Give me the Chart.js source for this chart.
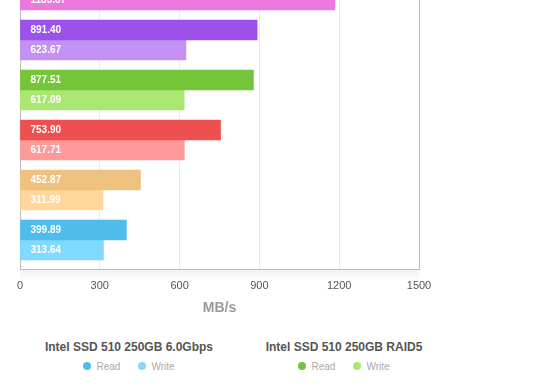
<!DOCTYPE html>
<html>
<head>
<meta charset="utf-8">
<script src="https://cdn.jsdelivr.net/npm/chart.js@4.4.1/dist/chart.umd.min.js"></script>
<style>
  html, body { margin: 0; padding: 0; background: #fff; }
  body { width: 560px; height: 390px; overflow: hidden; position: relative;
         font-family: "Liberation Sans", Arial, Helvetica, sans-serif; }
  /* the chart runs past the top of the window, like the reference */
  #wrap { position: absolute; left: 0; top: -50px; width: 560px; height: 364px; }
  #legend { position: absolute; top: 339px; left: 0; width: 560px; }
  .col { position: absolute; width: 220px; text-align: center; }
  .col h4 { margin: 0; font-size: 12px; line-height: 16px; font-weight: bold; color: #555; white-space: nowrap; }
  .items { margin-top: 5px; height: 12px; display: flex; justify-content: center; align-items: center;
           font-size: 10px; color: #aaa; }
  .item { display: flex; align-items: center; margin: 0 9px; }
  .dot { width: 8px; height: 8px; border-radius: 50%; margin-right: 5px; }
</style>
</head>
<body>
<div id="wrap"><canvas id="chart" width="560" height="364"></canvas></div>
<div id="legend"></div>
<script>
// bars listed bottom to top; names of the cropped-away groups are not readable
const categories = ['Intel SSD 510 250GB 6.0Gbps', '', '', 'Intel SSD 510 250GB RAID5', '', ''];
const readValues = [399.89, 452.87, 753.90, 877.51, 891.40, 1250.00]; // last one is above the visible area
const writeValues = [313.64, 311.99, 617.71, 617.09, 623.67, 1183.87];
const readColors = ['#4fbdec', '#eec17e', '#ee5050', '#75c53a', '#9b51ea', '#d955cc'];
const writeColors = ['#80d9ff', '#ffd79a', '#ff9a9a', '#a9e672', '#c390f3', '#eb78dd'];
const xTicks = [0, 300, 600, 900, 1200, 1500];
const legendOrder = [0, 3];

Chart.defaults.font.family = '"Liberation Sans", Arial, Helvetica, sans-serif';

const barLabels = {
    id: 'barLabels',
    afterDatasetsDraw(chart) {
        const ctx = chart.ctx;
        ctx.save();
        ctx.font = 'bold 10px "Liberation Sans", Arial, sans-serif';
        ctx.fillStyle = '#fff';
        ctx.textBaseline = 'middle';
        chart.data.datasets.forEach((ds, di) => {
            chart.getDatasetMeta(di).data.forEach((bar, i) => {
                ctx.fillText(ds.data[i].x.toFixed(2), bar.base + 10, bar.y + 0.5);
            });
        });
        ctx.restore();
    }
};

// faint shadow under the frame
const frameShadow = {
    id: 'frameShadow',
    afterDraw(chart) {
        const { ctx, chartArea: a } = chart;
        const g = ctx.createLinearGradient(0, a.bottom + 1, 0, a.bottom + 12);
        g.addColorStop(0, 'rgba(0,0,0,0.05)');
        g.addColorStop(1, 'rgba(0,0,0,0)');
        ctx.save();
        ctx.fillStyle = g;
        ctx.fillRect(a.left, a.bottom + 1, a.right - a.left, 11);
        ctx.restore();
    }
};

const speedChart = new Chart(document.getElementById('chart'), {
    type: 'bar',
    data: {
        datasets: [{
            label: 'Read',
            data: readValues.map((v, i) => ({ x: v, y: i })),
            backgroundColor: readColors,
            barThickness: 20
        }, {
            label: 'Write',
            data: writeValues.map((v, i) => ({ x: v, y: i })),
            backgroundColor: writeColors,
            barThickness: 20
        }]
    },
    options: {
        indexAxis: 'y',
        responsive: false,
        animation: false,
        layout: { padding: { left: 20, right: 141, top: 11, bottom: 0 } },
        plugins: { legend: { display: false }, tooltip: { enabled: false } },
        scales: {
            x: {
                type: 'linear',
                min: xTicks[0],
                max: xTicks[xTicks.length - 1],
                afterBuildTicks: (scale) => { scale.ticks = xTicks.map(v => ({ value: v })); },
                ticks: { color: '#555', font: { size: 11 }, padding: 10, callback: (v) => String(v) },
                grid: {
                    drawTicks: false,
                    color: (c) => (c.tick && (c.tick.value === 1500 || c.tick.value === 0)) ? '#bbb' : '#ebebeb'
                },
                border: { color: '#bbb' },
                title: { display: true, text: 'MB/s', color: '#999', font: { size: 14, weight: 'bold' },
                         padding: { top: -2, bottom: -3 } }
            },
            y: {
                type: 'linear',
                offset: false,
                min: -0.58,
                max: 5.58,
                ticks: { display: false },
                grid: { display: false, drawTicks: false },
                border: { color: '#bbb' }
            }
        }
    },
    plugins: [barLabels, frameShadow]
});

const legend = document.getElementById('legend');
const colCenters = [129, 344];
legendOrder.forEach((ci, k) => {
    const col = document.createElement('div');
    col.className = 'col';
    col.style.left = (colCenters[k] - 110) + 'px';
    col.innerHTML = '<h4>' + categories[ci] + '</h4>' +
        '<div class="items">' +
        '<span class="item"><span class="dot" style="background:' + readColors[ci] + '"></span>Read</span>' +
        '<span class="item"><span class="dot" style="background:' + writeColors[ci] + '"></span>Write</span>' +
        '</div>';
    legend.appendChild(col);
});
</script>
</body>
</html>
